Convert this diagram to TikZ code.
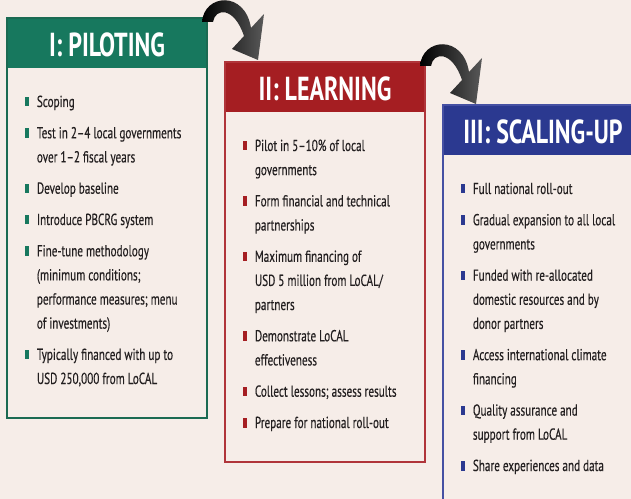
\documentclass[tikz,border=0pt]{standalone}
\usepackage{fontspec}
\newfontfamily\bodyfont{PT Sans}[FakeStretch=0.70, FakeBold=0.35]
\newfontfamily\titlefont{PT Sans}[FakeStretch=0.72]
\definecolor{bg}{HTML}{F6EDE8}
\definecolor{gI}{HTML}{17785E}
\definecolor{gIb}{HTML}{1B6A52}
\definecolor{rII}{HTML}{A51E22}
\definecolor{rIIb}{HTML}{B0353A}
\definecolor{bIII}{HTML}{2B3990}
\definecolor{bIIIb}{HTML}{4550A3}
\definecolor{ink}{HTML}{231F20}
\tikzset{
  stagebox/.style={draw=#1, line width=2.6bp, minimum width=200bp, minimum height=400bp,
    anchor=north west, inner sep=0pt, outer sep=0pt},
  stagehead/.style={fill=#1, minimum width=200bp, minimum height=50bp,
    anchor=north west, inner sep=0pt, outer sep=0pt},
  stagetitle/.style={text=white, font=\titlefont\bfseries\fontsize{33.4}{36}\selectfont,
    anchor=base, inner sep=0pt},
  itemtxt/.style={text=ink, font=\bodyfont\fontsize{16}{19}\selectfont,
    anchor=base west, inner sep=0pt},
  bigarrow/.style={left color=black, middle color=black, right color=black!65},
  curvedarrow/.pic={
    \shade[bigarrow] (-5,4) .. controls (-3,-24) and (38,-28) .. (44,10)
      -- (57,-4) -- (51,42) -- (25,31) -- (37,18)
      .. controls (27,-12) and (8,-10) .. (6,4) -- cycle;
  }
}
\begin{document}
\begin{tikzpicture}[x=1bp,y=-1bp]
\useasboundingbox (0,0) rectangle (631,499);
\clip (0,0) rectangle (631,499);
\fill[bg] (0,0) rectangle (631,499);

% ---------- Stage I ----------
\node[stagehead=gI] (h1) at (7,18) {};
\node[stagebox=gIb] (b1) at (7,18) {};
\begin{scope}[shift={(b1.north west)}]
  \node[stagetitle] (t1) at (100,38.7) {I: PILOTING};
  \foreach \yy in {89,120.3,175.7,207,238.3,341.9}
    \fill[gI] (18,\yy-10) rectangle (22,\yy-0.5);
  \node[itemtxt] (a1)  at (29.7,89)    {Scoping};
  \node[itemtxt] (a2)  at (29.7,120.3) {Test in 2–4 local governments};
  \node[itemtxt] (a3)  at (29.7,144.4) {over 1–2 fiscal years};
  \node[itemtxt] (a4)  at (29.7,175.7) {Develop baseline};
  \node[itemtxt] (a5)  at (29.7,207)   {Introduce PBCRG system};
  \node[itemtxt] (a6)  at (29.7,238.3) {Fine-tune methodology};
  \node[itemtxt] (a7)  at (29.7,262.4) {(minimum conditions;};
  \node[itemtxt] (a8)  at (29.7,286.5) {performance measures; menu};
  \node[itemtxt] (a9)  at (29.7,310.6) {of investments)};
  \node[itemtxt] (a10) at (29.7,341.9) {Typically financed with up to};
  \node[itemtxt] (a11) at (29.7,366)   {USD 250,000 from LoCAL};
\end{scope}

% ---------- Stage II ----------
\node[stagehead=rII] (h2) at (225,62) {};
\node[stagebox=rIIb] (b2) at (225,62) {};
\begin{scope}[shift={(b2.north west)}]
  \node[stagetitle] (t2) at (100,38.7) {II: LEARNING};
  \foreach \yy in {89,144.4,199.8,279.3,334.7,366}
    \fill[rII] (18,\yy-10) rectangle (22,\yy-0.5);
  \node[itemtxt] (c1)  at (29.7,89)    {Pilot in 5–10\% of local};
  \node[itemtxt] (c2)  at (29.7,113.1) {governments};
  \node[itemtxt] (c3)  at (29.7,144.4) {Form financial and technical};
  \node[itemtxt] (c4)  at (29.7,168.5) {partnerships};
  \node[itemtxt] (c5)  at (29.7,199.8) {Maximum financing of};
  \node[itemtxt] (c6)  at (29.7,223.9) {USD 5 million from LoCAL/};
  \node[itemtxt] (c7)  at (29.7,248)   {partners};
  \node[itemtxt] (c8)  at (29.7,279.3) {Demonstrate LoCAL};
  \node[itemtxt] (c9)  at (29.7,303.4) {effectiveness};
  \node[itemtxt] (c10) at (29.7,334.7) {Collect lessons; assess results};
  \node[itemtxt] (c11) at (29.7,366)   {Prepare for national roll-out};
\end{scope}

% ---------- Stage III ----------
\node[stagehead=bIII] (h3) at (443,105) {};
\node[stagebox=bIIIb] (b3) at (443,105) {};
\begin{scope}[shift={(b3.north west)}]
  \node[stagetitle] (t3) at (100,38.7) {III: SCALING-UP};
  \foreach \yy in {89,120.3,175.7,255.2,310.6,366}
    \fill[bIII] (18,\yy-10) rectangle (22,\yy-0.5);
  \node[itemtxt] (d1)  at (29.7,89)    {Full national roll-out};
  \node[itemtxt] (d2)  at (29.7,120.3) {Gradual expansion to all local};
  \node[itemtxt] (d3)  at (29.7,144.4) {governments};
  \node[itemtxt] (d4)  at (29.7,175.7) {Funded with re-allocated};
  \node[itemtxt] (d5)  at (29.7,199.8) {domestic resources and by};
  \node[itemtxt] (d6)  at (29.7,223.9) {donor partners};
  \node[itemtxt] (d7)  at (29.7,255.2) {Access international climate};
  \node[itemtxt] (d8)  at (29.7,279.3) {financing};
  \node[itemtxt] (d9)  at (29.7,310.6) {Quality assurance and};
  \node[itemtxt] (d10) at (29.7,334.7) {support from LoCAL};
  \node[itemtxt] (d11) at (29.7,366)   {Share experiences and data};
\end{scope}

% ---------- arrows between stages ----------
\pic at (b1.north east) {curvedarrow};
\pic at (b2.north east) {curvedarrow};
\end{tikzpicture}
\end{document}
